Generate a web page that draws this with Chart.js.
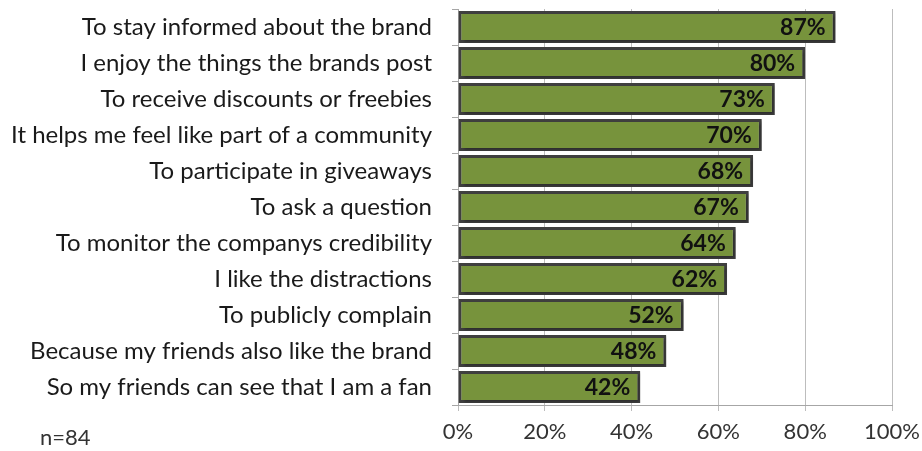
<!DOCTYPE html>
<html>
<head>
<meta charset="utf-8">
<script src="https://cdn.jsdelivr.net/npm/chart.js@4.4.0/dist/chart.umd.min.js"></script>
<style>
  html, body { margin: 0; padding: 0; background: #fff; }
  #wrap { width: 922px; height: 451px; position: relative; }
</style>
</head>
<body>
<div id="wrap"><canvas id="myChart" width="922" height="451"></canvas></div>
<script>
const categories = [
  "To stay informed about the brand",
  "I enjoy the things the brands post",
  "To receive discounts or freebies",
  "It helps me feel like part of a community",
  "To participate in giveaways",
  "To ask a question",
  "To monitor the companys credibility",
  "I like the distractions",
  "To publicly complain",
  "Because my friends also like the brand",
  "So my friends can see that I am a fan"
];
const values = [87, 80, 73, 70, 68, 67, 64, 62, 52, 48, 42];
const tickValues = [0, 20, 40, 60, 80, 100];
const sampleNote = "n=84";

const fontFamily = "Lato, 'Open Sans', sans-serif";

// bold % labels at the end of every bar
const barLabels = {
  id: "barLabels",
  afterDatasetsDraw(chart) {
    const ctx = chart.ctx;
    const meta = chart.getDatasetMeta(0);
    ctx.save();
    ctx.font = "bold 23px " + fontFamily;
    ctx.fillStyle = "#111";
    ctx.textAlign = "right";
    ctx.textBaseline = "middle";
    meta.data.forEach((bar, i) => {
      ctx.fillText(values[i] + "%", bar.x - 10, bar.y + 1);
    });
    ctx.restore();
  }
};

// shadow under bars
const barShadow = {
  id: "barShadow",
  beforeDatasetsDraw(chart) {
    const ctx = chart.ctx;
    ctx.save();
    ctx.shadowColor = "rgba(0,0,0,0.35)";
    ctx.shadowBlur = 3;
    ctx.shadowOffsetX = 2;
    ctx.shadowOffsetY = 2;
  },
  afterDatasetsDraw(chart) {
    chart.ctx.restore();
  }
};

// "n=84" note under the labels
const noteText = {
  id: "noteText",
  afterDraw(chart) {
    const ctx = chart.ctx;
    ctx.save();
    ctx.font = "22px " + fontFamily;
    ctx.fillStyle = "#333";
    ctx.textAlign = "left";
    ctx.textBaseline = "middle";
    ctx.fillText(sampleNote, 40, 438);
    ctx.restore();
  }
};

new Chart(document.getElementById("myChart"), {
  type: "bar",
  data: {
    labels: categories,
    datasets: [{
      data: values,
      backgroundColor: "#77933C",
      borderColor: "#3F3F3F",
      borderWidth: 3,
      borderSkipped: false,
      barPercentage: 0.89,
      categoryPercentage: 1.0
    }]
  },
  options: {
    indexAxis: "y",
    responsive: false,
    animation: false,
    layout: { padding: { top: 9, right: 30, left: 0, bottom: 0 } },
    plugins: {
      legend: { display: false },
      tooltip: { enabled: false }
    },
    scales: {
      x: {
        min: 0,
        max: 100,
        afterBuildTicks: (scale) => {
          scale.ticks = tickValues.map(v => ({ value: v }));
        },
        afterFit: (scale) => {
          scale.height = 46;
          scale.paddingLeft = 0;
          scale.paddingRight = 0;
        },
        grid: {
          color: "#BDBDBD",
          lineWidth: 1,
          tickLength: 6,
          drawTicks: true
        },
        border: { color: "#A6A6A6", width: 1 },
        ticks: {
          callback: (v) => v + "%",
          color: "#333",
          font: { family: fontFamily, size: 22 },
          padding: 8
        }
      },
      y: {
        afterFit: (scale) => {
          scale.width = 458;
          scale.paddingTop = 0;
          scale.paddingBottom = 0;
        },
        grid: {
          offset: true,
          drawOnChartArea: false,
          tickLength: 6,
          color: "#A6A6A6"
        },
        border: { color: "#A6A6A6", width: 1 },
        ticks: {
          color: "#1a1a1a",
          font: { family: fontFamily, size: 24 },
          padding: 20,
          autoSkip: false
        }
      }
    }
  },
  plugins: [barShadow, barLabels, noteText]
});
</script>
</body>
</html>
